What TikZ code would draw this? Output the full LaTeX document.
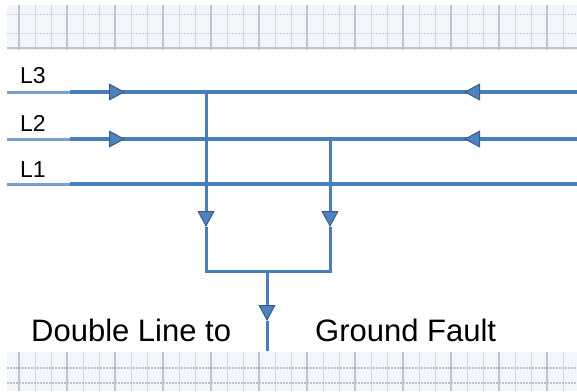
\documentclass[tikz,border=0pt]{standalone}
\usepackage{fontspec}
\setmainfont{Liberation Sans}
\usepackage{tikz}
\usetikzlibrary{arrows.meta, positioning, calc}
\definecolor{phaseblue}{RGB}{74, 126, 187}
\definecolor{tipfill}{RGB}{79, 129, 189}
\definecolor{tipedge}{RGB}{56, 93, 138}
\definecolor{gridgray}{RGB}{190, 195, 205}
\definecolor{gridfill}{RGB}{242, 245, 250}

\tikzset{
  phase/.style={draw=phaseblue, line width=3.6pt},
  stub/.style={draw=phaseblue!75, line width=3pt},
  flow/.style={phase, -{Triangle[length=16pt, width=17pt, line width=1pt, color=tipedge, fill=tipfill]}},
  tap/.style={draw=phaseblue, line width=3pt},
  tapflow/.style={tap, -{Triangle[length=16pt, width=17pt, line width=1pt, color=tipedge, fill=tipfill]}},
  lbl/.style={font=\fontsize{23}{27}\selectfont, anchor=base west, inner sep=0pt},
  captext/.style={font=\fontsize{31}{36}\selectfont, anchor=base west, inner sep=0pt}
}

\begin{document}
\begin{tikzpicture}[x=1pt, y=-1pt]
  \useasboundingbox (0,0) rectangle (577,391);

  % Ground bands
  \foreach \top/\bot in {5/50, 352/391} {
    \fill[gridfill] (7,\top) rectangle (577,\bot);
    \foreach \gx in {19,35,51,...,577} {
      \draw[gridgray!70, line width=0.8pt] (\gx,\top) -- (\gx,\bot);
    }
    \foreach \gx in {19,67,...,577} {
      \draw[gridgray, line width=1.2pt] (\gx,\top) -- (\gx,\bot);
    }
  }
  \foreach \gy in {14, 33} {
    \draw[gridgray!80, line width=1pt, dash pattern=on 2pt off 1pt] (7,\gy) -- (577,\gy);
  }
  \draw[gridgray, line width=1.8pt] (7,48) -- (577,48);
  \foreach \gy in {368, 383} {
    \draw[gridgray, line width=1.2pt, dash pattern=on 2pt off 1pt] (7,\gy) -- (577,\gy);
  }

  % Phase labels
  \node[lbl] (labL3) at (20,83) {L3};
  \node[lbl] (labL2) at (20,131) {L2};
  \node[lbl] (labL1) at (20,177) {L1};

  % Phase lines
  \foreach \ph/\py in {L3/92, L2/139, L1/184} {
    \coordinate (\ph w) at (7,\py);
    \coordinate (\ph s) at (70,\py);
    \coordinate (\ph e) at (577,\py);
    \draw[stub] (\ph w) -- (\ph s);
    \draw[phase] (\ph s) -- (\ph e);
  }

  % Currents into the fault
  \foreach \ph/\py in {L3/92, L2/139} {
    \coordinate (\ph in) at (125,\py);
    \coordinate (\ph back) at (464,\py);
    \draw[flow] (\ph s) -- (\ph in);
    \draw[flow] (\ph e) -- (\ph back);
  }

  % Fault path
  \coordinate (tapL3) at (206,92);
  \coordinate (tapL2) at (330,139);
  \coordinate (dnL3) at (206,227);
  \coordinate (dnL2) at (330,227);
  \coordinate (joinL3) at (206,271);
  \coordinate (joinL2) at (330,271);
  \coordinate (joint) at (267,271);
  \coordinate (dnG) at (267,321);
  \coordinate (earth) at (267,351);

  \draw[tapflow] (tapL3) -- (dnL3);
  \draw[tap] (dnL3) -- (joinL3) -- (joinL2) -- (dnL2);
  \draw[tapflow] (tapL2) -- (dnL2);
  \draw[tapflow] (joint) -- (dnG);
  \draw[tap] (dnG) -- (earth);

  % Caption
  \node[captext] (capL) at (31,341) {Double Line to};
  \node[captext] (capR) at (315,341) {Ground Fault};
\end{tikzpicture}
\end{document}
